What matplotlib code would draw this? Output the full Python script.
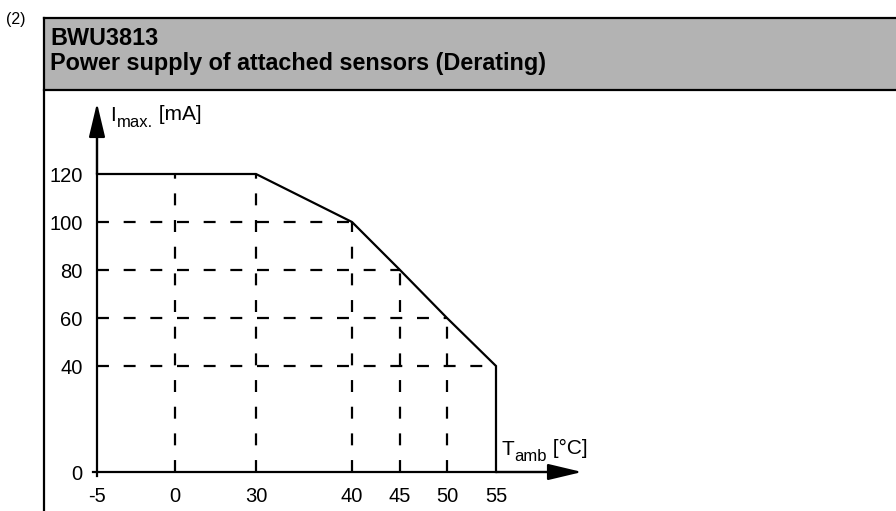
import matplotlib.pyplot as plt
import numpy as np
from matplotlib.patches import Rectangle
from matplotlib.lines import Line2D

plt.rcParams["font.family"] = ["Liberation Sans", "DejaVu Sans"]
plt.rcParams["lines.scale_dashes"] = False

# derating curve (ambient temperature -> max current)
temp = [-5, 30, 40, 45, 50, 55, 55]
current = [120, 120, 100, 80, 60, 40, 0]

x_ticks = [-5, 0, 30, 40, 45, 50, 55]
y_ticks = [0, 40, 60, 80, 100, 120]

# dashed helper lines: (x, y_top) verticals and (y, x_right) horizontals
v_guides_x = [0, 30, 40, 45, 50]
v_guides_top = [120, 120, 100, 80, 60]
h_guides_y = [100, 80, 60, 40]
h_guides_right = [40, 45, 50, 55]

# the drawing does not use a linear axis, so map ticks onto pixel columns/rows
W, H = 896, 511
x_px = [97, 175, 256, 352, 400, 447, 496]
y_px = [H - p for p in (472, 366, 318, 270, 222, 174)]


def interp_ext(v, xp, fp):
    v = np.asarray(v, dtype=float)
    xp = np.asarray(xp, dtype=float)
    fp = np.asarray(fp, dtype=float)
    left = fp[0] + (v - xp[0]) * (fp[1] - fp[0]) / (xp[1] - xp[0])
    right = fp[-1] + (v - xp[-1]) * (fp[-1] - fp[-2]) / (xp[-1] - xp[-2])
    mid = np.interp(v, xp, fp)
    return np.where(v < xp[0], left, np.where(v > xp[-1], right, mid))


def fx(v):
    return interp_ext(v, x_ticks, x_px)


def fx_inv(p):
    return interp_ext(p, x_px, x_ticks)


def fy(v):
    return interp_ext(v, y_ticks, y_px)


def fy_inv(p):
    return interp_ext(p, y_px, y_ticks)


def sub_label(ax, xy, offset, main, sub, rest, size=15, sub_size=12):
    # main letter, lowered subscript, then the unit on the main baseline
    t1 = ax.annotate(main, xy=xy, xytext=offset, textcoords="offset points",
                     fontsize=size, va="baseline", ha="left")
    t2 = ax.annotate(sub, xy=(1, 0), xycoords=t1, xytext=(0.5, -1.5),
                     textcoords="offset points", fontsize=sub_size, va="baseline")
    ax.annotate(rest, xy=(1, 0), xycoords=t2, xytext=(0, 7.5),
                textcoords="offset points", fontsize=size, va="baseline")


fig = plt.figure(figsize=(W / 100, H / 100), dpi=100)

# frame: header band and left border
fig.add_artist(Rectangle((44 / W, 1 - 89 / H), 1, 71 / H, transform=fig.transFigure,
                         facecolor="#b3b3b3", edgecolor="none"))
fig.add_artist(Line2D([44 / W, 1], [1 - 18 / H] * 2, color="black", lw=1.6))
fig.add_artist(Line2D([44 / W, 1], [1 - 90 / H] * 2, color="black", lw=1.6))
fig.add_artist(Line2D([44 / W] * 2, [0, 1 - 18 / H], color="black", lw=1.6))

fig.text(6 / W, 1 - 24 / H, "(2)", fontsize=11.5, va="baseline")
fig.text(50 / W, 1 - 45 / H, "BWU3813", fontsize=16.8, fontweight="bold", va="baseline")
fig.text(50 / W, 1 - 70 / H, "Power supply of attached sensors (Derating)",
         fontsize=16.8, fontweight="bold", va="baseline")

# axes box from origin overshoot to arrow tips
left, right, bottom, top = 93, 582, H - 476, H - 103
ax = fig.add_axes([left / W, bottom / H, (right - left) / W, (top - bottom) / H])
ax.set_xscale("function", functions=(fx, fx_inv))
ax.set_yscale("function", functions=(fy, fy_inv))
ax.set_xlim(float(fx_inv(left)), float(fx_inv(right)))
ax.set_ylim(float(fy_inv(bottom)), float(fy_inv(top)))
ax.patch.set_visible(False)

for s in ("top", "right"):
    ax.spines[s].set_visible(False)
ax.spines["left"].set_position(("data", -5))
ax.spines["bottom"].set_position(("data", 0))
ax.spines["left"].set_bounds(ax.get_ylim()[0], float(fy_inv(H - 130)))
ax.spines["bottom"].set_bounds(ax.get_xlim()[0], float(fx_inv(555)))
for s in ("left", "bottom"):
    ax.spines[s].set_linewidth(1.6)

ax.set_xticks(x_ticks)
ax.set_xticklabels([str(t) for t in x_ticks])
ax.set_yticks(y_ticks)
ax.set_yticklabels([str(t) for t in y_ticks])
ax.tick_params(axis="x", length=0, pad=11, labelsize=14.5)
ax.tick_params(axis="y", length=0, pad=10.5, labelsize=14.5)

arrow = dict(arrowstyle="-|>,head_length=2.1,head_width=0.5", color="black",
             lw=1.6, shrinkA=0, shrinkB=0, mutation_scale=10)
ax.annotate("", xy=(-5, ax.get_ylim()[1]), xytext=(-5, 120), arrowprops=arrow)
ax.annotate("", xy=(ax.get_xlim()[1], 0), xytext=(55, 0), arrowprops=arrow)

dash = (0, (8.6, 10.6))
for x, yt in zip(v_guides_x, v_guides_top):
    ax.plot([x, x], [0, yt], color="black", lw=1.6, linestyle=dash)
for y, xr in zip(h_guides_y, h_guides_right):
    ax.plot([-5, xr], [y, y], color="black", lw=1.6, linestyle=dash)

ax.plot(temp, current, color="black", lw=1.6, solid_joinstyle="miter")

sub_label(ax, (-5, 120), (9.4, 38), "I", "max.", " [mA]")
sub_label(ax, (55, 0), (3.6, 12), "T", "amb", " [°C]")

fig.savefig("out.png", dpi=100)
